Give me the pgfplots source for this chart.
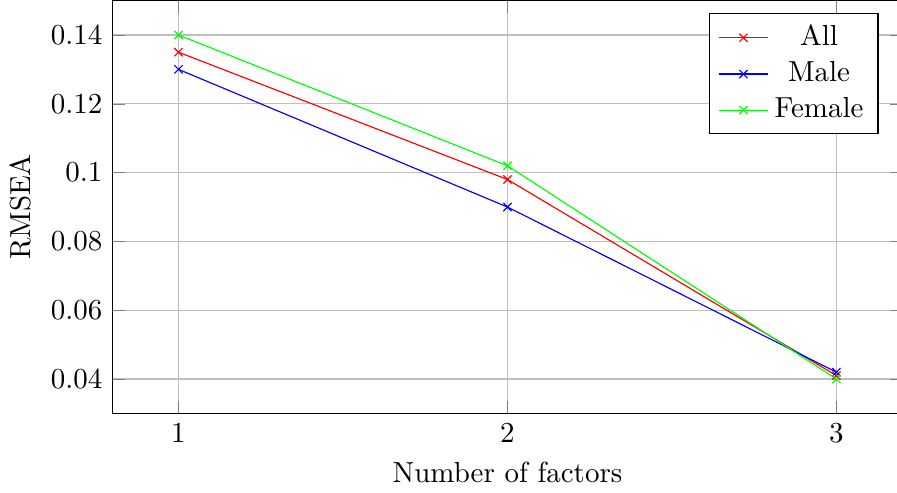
\documentclass[border=0pt]{standalone}
\usepackage{pgfplots}
\pgfplotsset{compat=1.18}
\begin{document}
\begin{tikzpicture}
\begin{axis}[
  scale only axis,
  width=272.5pt, height=142.5pt,
  xlabel={Number of factors},
  ylabel={RMSEA},
  xmin=0.8, xmax=3.2,
  ymin=0.03, ymax=0.15,
  xtick={1,2,3},
  ytick={0.04,0.06,0.08,0.1,0.12,0.14},
  yticklabel style={/pgf/number format/fixed, /pgf/number format/precision=2},
  scaled y ticks=false,
  grid=major,
  legend pos=north east,
  legend cell align=center,
  ]
  \addplot[color=red, mark=x] coordinates {(1,0.135) (2,0.098) (3,0.041)};
  \addplot[color=blue, mark=x] coordinates {(1,0.130) (2,0.090) (3,0.042)};
  \addplot[color=green, mark=x] coordinates {(1,0.140) (2,0.102) (3,0.040)};
  \legend{All, Male, Female}
\end{axis}
% the reference is cut just inside the right axis line
\coordinate (sw) at (current bounding box.south west);
\coordinate (ne) at (current bounding box.north east);
\pgfresetboundingbox
\useasboundingbox (sw) rectangle ([xshift=-2pt]ne);
\end{tikzpicture}
\end{document}
